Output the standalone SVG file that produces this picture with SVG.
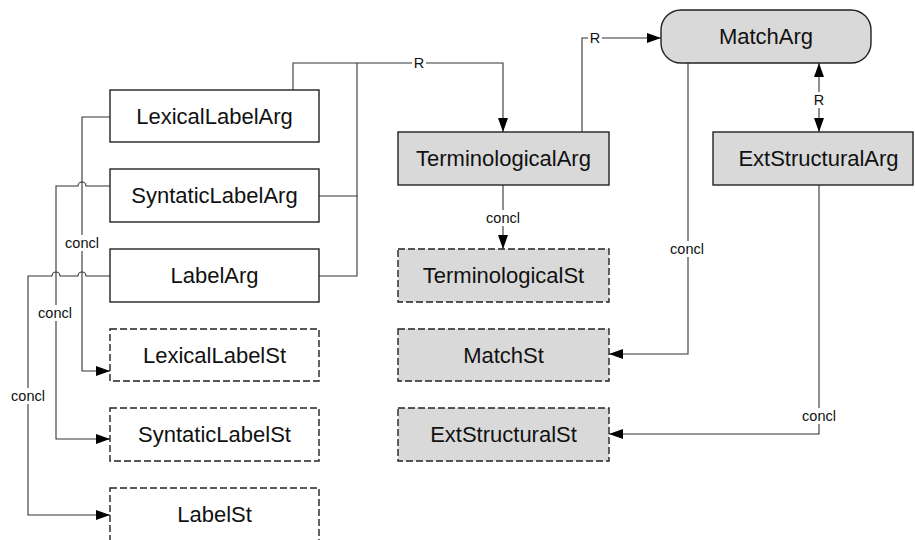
<svg xmlns="http://www.w3.org/2000/svg" width="915" height="540" viewBox="0 0 915 540">
  <style>
    .box { fill: #ffffff; stroke: #222222; stroke-width: 1.4; }
    .grey { fill: #d9d9d9; }
    .dash { stroke-dasharray: 7 3; }
    .name { font-family: "Liberation Sans", Arial, sans-serif; font-size: 22px; fill: #111111; text-anchor: middle; }
    .edge { fill: none; stroke: #333333; stroke-width: 1.1; }
    .tag { font-family: "Liberation Sans", Arial, sans-serif; font-size: 14.5px; fill: #111111; text-anchor: middle; }
    .tagbg { fill: #ffffff; }
  </style>
  <defs>
    <marker id="arrow" viewBox="0 0 14 10" markerWidth="14" markerHeight="10" refX="14" refY="5" markerUnits="userSpaceOnUse" orient="auto-start-reverse">
      <path d="M0,0 L14,5 L0,10 z" fill="#000000"/>
    </marker>
  </defs>

  <!-- connectors -->
  <g id="connectors">
    <!-- label arguments merge into the R link towards TerminologicalArg -->
    <path class="edge" d="M293,90 V63 H503 V132" marker-end="url(#arrow)"/>
    <path class="edge" d="M319,196 H357 V63"/>
    <path class="edge" d="M319,276 H357 V196"/>
    <!-- TerminologicalArg to MatchArg -->
    <path class="edge" d="M582,132 V38 H661" marker-end="url(#arrow)"/>
    <!-- MatchArg and ExtStructuralArg -->
    <path class="edge" d="M819,63 V132" marker-start="url(#arrow)" marker-end="url(#arrow)"/>
    <!-- conclusions -->
    <path class="edge" d="M503,185 V249" marker-end="url(#arrow)"/>
    <path class="edge" d="M688,63 V354 H609" marker-end="url(#arrow)"/>
    <path class="edge" d="M819,184 V434 H609" marker-end="url(#arrow)"/>
    <path class="edge" d="M110,117 H82 V371 H110" marker-end="url(#arrow)"/>
    <path class="edge" d="M110,186 H86 A4,4 0 0 0 78,186 H56 V439 H110" marker-end="url(#arrow)"/>
    <path class="edge" d="M110,276 H86 A4,4 0 0 0 78,276 H60 A4,4 0 0 0 52,276 H28 V515 H110" marker-end="url(#arrow)"/>

    <!-- connector labels -->
    <rect class="tagbg" x="412" y="55" width="14" height="16"/>
    <text class="tag" x="419" y="68">R</text>
    <rect class="tagbg" x="588" y="30" width="14" height="16"/>
    <text class="tag" x="595" y="43">R</text>
    <rect class="tagbg" x="812" y="92" width="14" height="16"/>
    <text class="tag" x="819" y="105">R</text>
    <rect class="tagbg" x="485" y="210" width="36" height="16"/>
    <text class="tag" x="503" y="223">concl</text>
    <rect class="tagbg" x="669" y="241" width="36" height="16"/>
    <text class="tag" x="687" y="254">concl</text>
    <rect class="tagbg" x="801" y="408" width="36" height="16"/>
    <text class="tag" x="819" y="421">concl</text>
    <rect class="tagbg" x="64" y="235" width="36" height="16"/>
    <text class="tag" x="82" y="248">concl</text>
    <rect class="tagbg" x="37" y="305" width="36" height="16"/>
    <text class="tag" x="55" y="318">concl</text>
    <rect class="tagbg" x="10" y="388" width="36" height="16"/>
    <text class="tag" x="28" y="401">concl</text>
  </g>

  <!-- argument nodes -->
  <g id="LexicalLabelArg">
    <rect class="box" x="110" y="90" width="209" height="52"/>
    <text class="name" x="214.5" y="124">LexicalLabelArg</text>
  </g>
  <g id="SyntaticLabelArg">
    <rect class="box" x="110" y="169" width="209" height="53"/>
    <text class="name" x="214.5" y="203">SyntaticLabelArg</text>
  </g>
  <g id="LabelArg">
    <rect class="box" x="110" y="249" width="209" height="53"/>
    <text class="name" x="214.5" y="283">LabelArg</text>
  </g>
  <g id="TerminologicalArg">
    <rect class="box grey" x="398" y="132" width="211" height="53"/>
    <text class="name" x="503.5" y="166">TerminologicalArg</text>
  </g>
  <g id="MatchArg">
    <rect class="box grey" x="661" y="10" width="210" height="53" rx="20" ry="20"/>
    <text class="name" x="766" y="44">MatchArg</text>
  </g>
  <g id="ExtStructuralArg">
    <rect class="box grey" x="713" y="132" width="200" height="53"/>
    <text class="name" x="818.5" y="166">ExtStructuralArg</text>
  </g>

  <!-- statement nodes -->
  <g id="LexicalLabelSt">
    <rect class="box dash" x="110" y="329" width="209" height="52"/>
    <text class="name" x="214.5" y="363">LexicalLabelSt</text>
  </g>
  <g id="SyntaticLabelSt">
    <rect class="box dash" x="110" y="408" width="209" height="53"/>
    <text class="name" x="214.5" y="442">SyntaticLabelSt</text>
  </g>
  <g id="LabelSt">
    <rect class="box dash" x="110" y="488" width="209" height="53"/>
    <text class="name" x="214.5" y="522">LabelSt</text>
  </g>
  <g id="TerminologicalSt">
    <rect class="box grey dash" x="398" y="249" width="211" height="53"/>
    <text class="name" x="503.5" y="283">TerminologicalSt</text>
  </g>
  <g id="MatchSt">
    <rect class="box grey dash" x="398" y="329" width="211" height="52"/>
    <text class="name" x="503.5" y="363">MatchSt</text>
  </g>
  <g id="ExtStructuralSt">
    <rect class="box grey dash" x="398" y="408" width="211" height="53"/>
    <text class="name" x="503.5" y="442">ExtStructuralSt</text>
  </g>
</svg>
